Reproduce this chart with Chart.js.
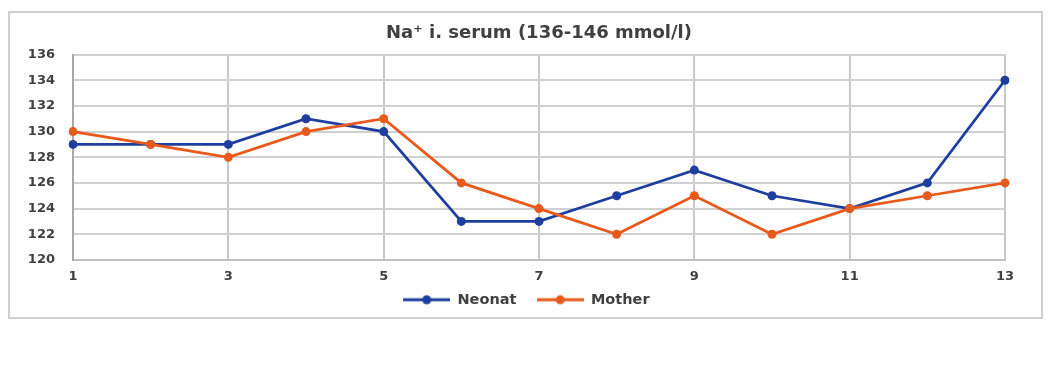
<!DOCTYPE html>
<html>
<head>
<meta charset="utf-8">
<script src="https://cdn.jsdelivr.net/npm/chart.js@4/dist/chart.umd.min.js"></script>
<style>
  html, body { margin: 0; padding: 0; background: #fff; width: 1048px; height: 371px; overflow: hidden; }
  #box { position: absolute; left: 8px; top: 11px; width: 1031px; height: 304px; border: 2px solid #d0d0d0; }
  #box canvas { display: block; }
</style>
</head>
<body>
<div id="box"><canvas id="c"></canvas></div>
<script>
const categories = ['1','2','3','4','5','6','7','8','9','10','11','12','13'];
const neonat = [129,129,129,131,130,123,123,125,127,125,124,126,134];
const mother = [130,129,128,130,131,126,124,122,125,122,124,125,126];
const seriesNames = ['Neonat', 'Mother'];
const titleText = 'Na\u207A i. serum (136-146 mmol/l)';
const yMin = 120, yMax = 136, yStep = 2;

const BLUE = '#1f3f9f';
const ORANGE = '#e8591c';
const FAMILY = "'DejaVu Sans', sans-serif";

function legendIcon(color) {
  const c = document.createElement('canvas');
  c.width = 47; c.height = 12;
  const g = c.getContext('2d');
  g.strokeStyle = color; g.lineWidth = 3;
  g.beginPath(); g.moveTo(0, 6); g.lineTo(47, 6); g.stroke();
  g.fillStyle = color;
  g.beginPath(); g.arc(23.5, 6, 4.5, 0, Math.PI * 2); g.fill();
  return c;
}
const icons = [legendIcon(BLUE), legendIcon(ORANGE)];
const legendSuffix = ['\u00A0\u00A0\u00A0\u00A0', '\u00A0\u00A0\u00A0\u00A0\u00A0'];

const tickFont = { family: FAMILY, size: 13, weight: 'bold' };

new Chart(document.getElementById('c'), {
  type: 'line',
  data: {
    labels: categories,
    datasets: [
      { label: seriesNames[0], data: neonat, borderColor: BLUE, backgroundColor: BLUE,
        borderWidth: 2.75, pointRadius: 4.5, pointBackgroundColor: BLUE, pointBorderWidth: 0,
        tension: 0, order: 1 },
      { label: seriesNames[1], data: mother, borderColor: ORANGE, backgroundColor: ORANGE,
        borderWidth: 2.75, pointRadius: 4.5, pointBackgroundColor: ORANGE, pointBorderWidth: 0,
        tension: 0, order: 0 }
    ]
  },
  options: {
    responsive: true,
    maintainAspectRatio: false,
    animation: false,
    layout: { padding: { left: 0, right: 36, top: 0, bottom: 0 } },
    plugins: {
      title: {
        display: true, text: titleText, color: '#404040', fullSize: false,
        font: { family: FAMILY, size: 18, weight: 'bold' },
        padding: { top: 10, bottom: 10 }
      },
      legend: {
        position: 'bottom',
        fullSize: false,
        labels: {
          color: '#404040',
          font: { family: FAMILY, size: 14.5, weight: 'bold', lineHeight: 1.05 },
          usePointStyle: true,
          pointStyleWidth: 47,
          boxHeight: 12,
          padding: 0,
          sort: (a, b) => a.datasetIndex - b.datasetIndex,
          generateLabels: (chart) => chart.data.datasets.map((ds, i) => ({
            text: ds.label + legendSuffix[i], datasetIndex: i, pointStyle: icons[i],
            fillStyle: ds.borderColor, strokeStyle: ds.borderColor, lineWidth: 0,
            fontColor: '#404040', hidden: false
          }))
        }
      },
      tooltip: { enabled: false }
    },
    scales: {
      x: {
        type: 'category',
        offset: false,
        grid: {
          color: (ctx) => (ctx.index % 2 === 0 ? '#c8c8c8' : 'rgba(0,0,0,0)'),
          lineWidth: 2,
          drawTicks: false
        },
        border: { color: '#c0c0c0', width: 2 },
        ticks: {
          autoSkip: false, maxRotation: 0, color: '#404040', font: tickFont, padding: 8.5,
          callback: function(v, i) { return i % 2 === 0 ? this.getLabelForValue(v) : ''; }
        }
      },
      y: {
        min: yMin, max: yMax,
        afterFit: (s) => { s.width = 63; },
        grid: { color: '#d0d0d0', lineWidth: 2, drawTicks: false },
        border: { color: '#a8a8a8', width: 2 },
        ticks: { stepSize: yStep, color: '#404040', font: tickFont, padding: 18 }
      }
    }
  }
});
</script>
</body>
</html>
